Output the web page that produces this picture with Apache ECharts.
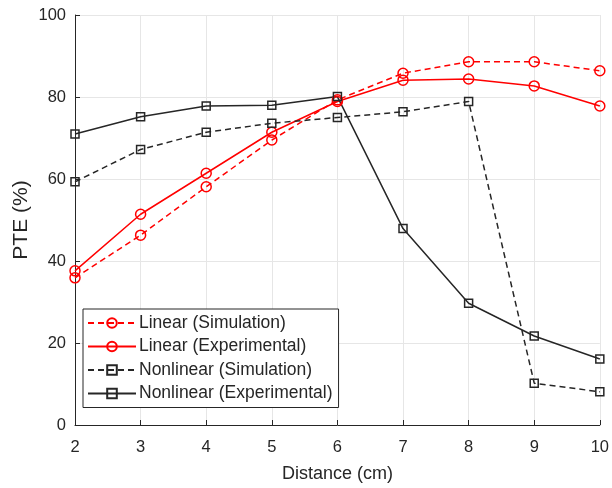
<!DOCTYPE html>
<html><head><meta charset="utf-8">
<script src="https://cdn.jsdelivr.net/npm/echarts@6/dist/echarts.min.js"></script>
<style>html,body{margin:0;padding:0;background:#fff}#c{width:612px;height:488px}</style>
</head><body><div id="c"></div>
<script>
const distances = [2, 3, 4, 5, 6, 7, 8, 9, 10];
const linearSim = [35.9, 46.3, 58.1, 69.5, 79.3, 85.8, 88.6, 88.6, 86.4];
const linearExp = [37.6, 51.4, 61.4, 71.4, 78.9, 84.1, 84.4, 82.7, 77.8];
const nonlinearSim = [59.3, 67.2, 71.4, 73.6, 75.0, 76.4, 78.9, 10.2, 8.1];
const nonlinearExp = [71.0, 75.2, 77.8, 78.0, 80.1, 47.9, 29.7, 21.7, 16.1];
const seriesNames = ['Linear (Simulation)', 'Linear (Experimental)', 'Nonlinear (Simulation)', 'Nonlinear (Experimental)'];

const font = 'Liberation Sans, Arial, sans-serif';
const pair = arr => distances.map((d, i) => [d, arr[i]]);
function mk(name, data, color, dashed, symbol, size) {
  return {
    name, type: 'line', data: pair(data),
    symbol, symbolSize: size,
    showAllSymbol: true,
    lineStyle: { color, width: 1.5, type: dashed ? [6, 4] : 'solid' },
    itemStyle: { color: 'rgba(255,255,255,0)', borderColor: color, borderWidth: 1.5 },
    emphasis: { disabled: true }
  };
}
const chart = echarts.init(document.getElementById('c'));
chart.setOption({
  animation: false,
  grid: { left: 75, right: 10, top: 15, bottom: 63 },
  xAxis: {
    type: 'value', min: 2, max: 10, interval: 1,
    name: 'Distance (cm)', nameLocation: 'middle', nameGap: 40,
    nameMoveOverlap: false,
    nameTextStyle: { fontFamily: font, fontSize: 18, color: '#262626' },
    axisLine: { lineStyle: { color: '#262626', width: 1 } },
    axisTick: { inside: true, length: 5, lineStyle: { color: '#262626' } },
    axisLabel: { fontFamily: font, fontSize: 16.5, color: '#262626', margin: 14 },
    splitLine: { show: true, lineStyle: { color: '#e6e6e6', width: 1 } }
  },
  yAxis: {
    type: 'value', min: 0, max: 100, interval: 20,
    name: 'PTE (%)', nameLocation: 'middle', nameGap: 43,
    nameMoveOverlap: false,
    nameTextStyle: { fontFamily: font, fontSize: 21, color: '#262626' },
    axisLine: { show: true, lineStyle: { color: '#262626', width: 1 } },
    axisTick: { show: true, inside: true, length: 5, lineStyle: { color: '#262626' } },
    axisLabel: { fontFamily: font, fontSize: 16.5, color: '#262626', margin: 9 },
    splitLine: { show: true, lineStyle: { color: '#e6e6e6', width: 1 } }
  },
  legend: {
    orient: 'vertical', left: 83, top: 309,
    padding: [5, 6, 5, 4],
    itemGap: 5.5, itemWidth: 48, itemHeight: 12,
    borderColor: '#262626', borderWidth: 1, backgroundColor: '#fff',
    textStyle: { fontFamily: font, fontSize: 17.5, lineHeight: 17.5, color: '#262626', padding: [0, 0, 0, -2] },
    data: seriesNames
  },
  series: [
    mk(seriesNames[0], linearSim, '#ff0000', true, 'circle', 10),
    mk(seriesNames[1], linearExp, '#ff0000', false, 'circle', 10),
    mk(seriesNames[2], nonlinearSim, '#262626', true, 'rect', 8),
    mk(seriesNames[3], nonlinearExp, '#262626', false, 'rect', 8)
  ]
});
</script></body></html>
